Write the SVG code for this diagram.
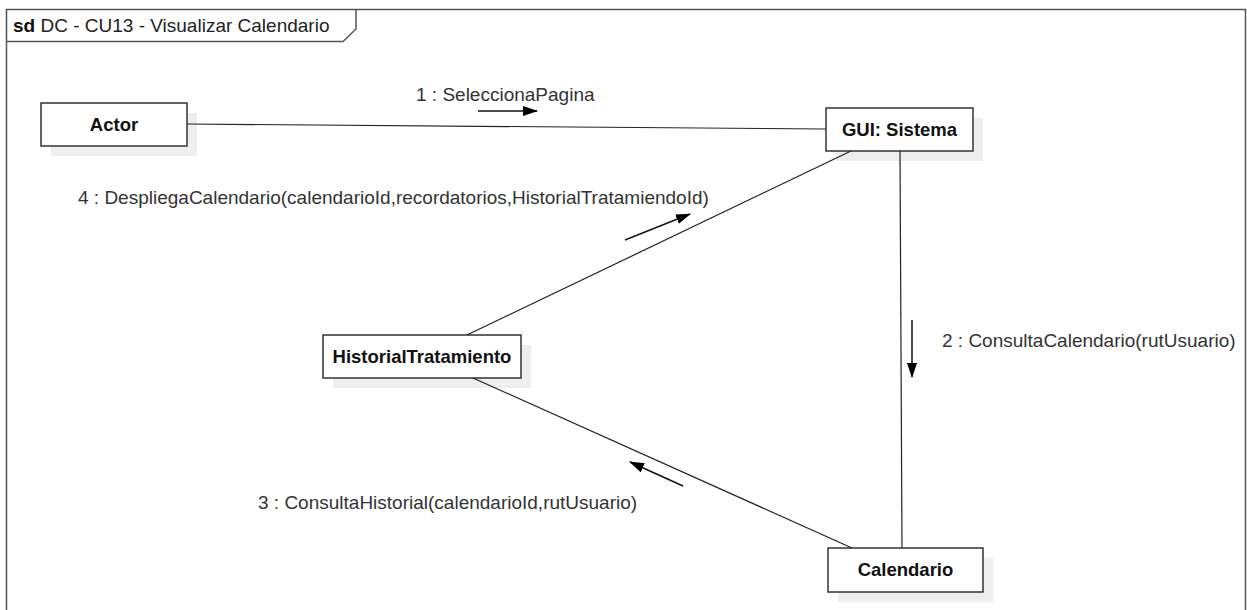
<svg xmlns="http://www.w3.org/2000/svg" width="1247" height="610" viewBox="0 0 1247 610">
<style>
.frame{fill:none;stroke:#555;stroke-width:1.5}
.box{fill:#fff;stroke:#333;stroke-width:1.5}
.shadow{fill:#eee}
.nl{font-family:"Liberation Sans",Arial,sans-serif;font-size:18.5px;font-weight:bold;fill:#111;text-anchor:middle}
.lbl{font-family:"Liberation Sans",Arial,sans-serif;font-size:19px;fill:#333}
.conn{stroke:#222;stroke-width:1.2;fill:none}
.msg{stroke:#111;stroke-width:1.5;fill:none;marker-end:url(#ah)}
</style>
<defs>
<marker id="ah" viewBox="0 0 15 10" refX="14" refY="5" markerWidth="15" markerHeight="10" markerUnits="userSpaceOnUse" orient="auto">
<path d="M0,0 L15,5 L0,10 Z" fill="#000"/>
</marker>
</defs>
<rect width="1247" height="610" fill="#fff"/>
<g id="frame">
<path class="frame" d="M6.5,614 L6.5,9.5 L1245.5,9.5 L1245.5,614"/>
<path class="frame" d="M6.5,41.5 L343,41.5 L356,29 L356,9.5"/>
<text x="13" y="32" class="lbl" style="fill:#222"><tspan font-weight="bold" fill="#111">sd</tspan> DC - CU13 - Visualizar Calendario</text>
</g>
<g id="actor">
<rect class="shadow" x="51" y="113" width="146" height="43"/>
<rect class="box" x="41" y="103" width="146" height="43"/>
<text class="nl" x="114" y="131">Actor</text>
</g>
<g id="gui">
<rect class="shadow" x="836" y="118" width="147" height="43"/>
<rect class="box" x="826" y="108" width="147" height="43"/>
<text class="nl" x="899.5" y="136">GUI: Sistema</text>
</g>
<g id="historial">
<rect class="shadow" x="333" y="345" width="198" height="43"/>
<rect class="box" x="323" y="335" width="198" height="43"/>
<text class="nl" x="422" y="363">HistorialTratamiento</text>
</g>
<g id="calendario">
<rect class="shadow" x="838" y="558" width="155" height="44"/>
<rect class="box" x="828" y="548" width="155" height="44"/>
<text class="nl" x="905.5" y="576">Calendario</text>
</g>
<g id="connectors">
<line class="conn" x1="187" y1="124" x2="826" y2="129"/>
<line class="conn" x1="851" y1="151" x2="467" y2="335"/>
<line class="conn" x1="900" y1="151" x2="902" y2="548"/>
<line class="conn" x1="473" y1="378" x2="852" y2="548"/>
<line class="msg" x1="478" y1="111" x2="537" y2="111"/>
<line class="msg" x1="625" y1="240" x2="690" y2="214"/>
<line class="msg" x1="912" y1="320" x2="912" y2="377"/>
<line class="msg" x1="683" y1="486" x2="630" y2="462"/>
<text class="lbl" x="416" y="101">1 : SeleccionaPagina</text>
<text class="lbl" x="78" y="204">4 : DespliegaCalendario(calendarioId,recordatorios,HistorialTratamiendoId)</text>
<text class="lbl" x="942" y="347">2 : ConsultaCalendario(rutUsuario)</text>
<text class="lbl" x="258" y="509">3 : ConsultaHistorial(calendarioId,rutUsuario)</text>
</g>
</svg>
